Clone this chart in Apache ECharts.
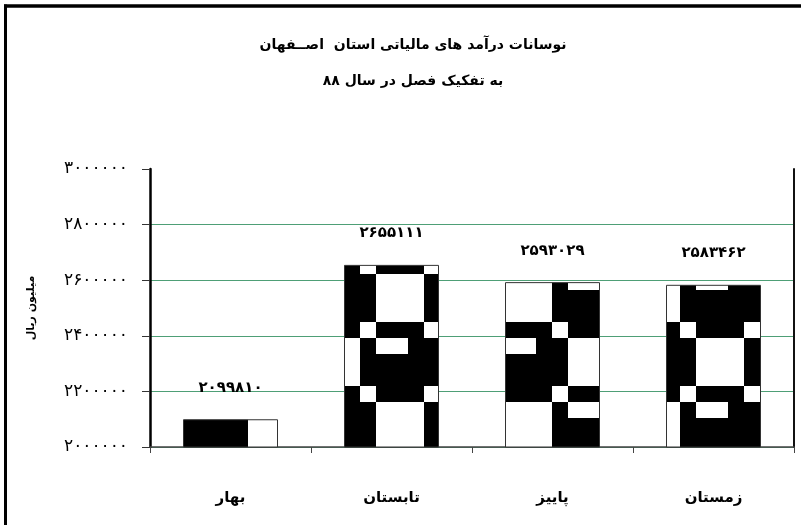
<!DOCTYPE html>
<html>
<head>
<meta charset="utf-8">
<script src="https://cdn.jsdelivr.net/npm/echarts@6/dist/echarts.min.js"></script>
<style>
html,body{margin:0;padding:0;background:#fff;overflow:hidden;}
#chart{width:801px;height:525px;}
</style>
</head>
<body>
<div id="chart"></div>
<script>
// ---- data ----
const categories = ['بهار', 'تابستان', 'پاییز', 'زمستان'];
const revenue = [2099810, 2655111, 2593029, 2583462];
const yMin = 2000000;
const yMax = 3000000;
const yStep = 200000;
const titleLine1 = 'نوسانات درآمد های مالیاتی استان  اصــفهان';
const titleLine2 = 'به تفکیک فصل در سال ۸۸';
const yAxisName = 'میلیون ریال';

// ---- helpers ----
const faDigits = '۰۱۲۳۴۵۶۷۸۹';
function toFa(n) { return String(n).replace(/\d/g, d => faDigits[+d]); }

// bar fill pattern (8x8 cells of 16px, 1 = black)
const tile = [
  [1,0,1,1,1,0,1,1],
  [1,1,0,0,0,1,0,0],
  [1,1,0,0,0,1,1,1],
  [1,1,0,0,0,1,1,1],
  [1,0,1,1,1,0,1,1],
  [0,1,0,0,1,1,0,0],
  [0,1,1,1,1,1,0,0],
  [0,1,1,1,1,1,0,0]
];
function makePattern() {
  const size = 128, cell = 16, ox = 88, oy = 2;
  const c = document.createElement('canvas');
  c.width = size; c.height = size;
  const ctx = c.getContext('2d');
  ctx.fillStyle = '#fff';
  ctx.fillRect(0, 0, size, size);
  ctx.fillStyle = '#000';
  for (let i = 0; i < 8; i++) {
    for (let j = 0; j < 8; j++) {
      if (!tile[i][j]) continue;
      const x = (ox + j * cell) % size, y = (oy + i * cell) % size;
      for (const dx of [0, -size]) for (const dy of [0, -size]) {
        ctx.fillRect(x + dx, y + dy, cell, cell);
      }
    }
  }
  return c;
}

const FONT = 'DejaVu Sans';
const grid = '#4e9f76';

const chart = echarts.init(document.getElementById('chart'), null, { renderer: 'canvas' });
chart.setOption({
  animation: false,
  backgroundColor: '#fff',
  textStyle: { fontFamily: FONT },
  title: [
    { text: titleLine1, left: 408, top: 33, textAlign: 'center',
      textStyle: { fontFamily: FONT, fontSize: 14, fontWeight: 'bold', color: '#000' } },
    { text: titleLine2, left: 408, top: 69, textAlign: 'center',
      textStyle: { fontFamily: FONT, fontSize: 14, fontWeight: 'bold', color: '#000' } }
  ],
  graphic: [
    { type: 'line', shape: { x1: 4, y1: 6, x2: 801, y2: 6 },
      style: { stroke: '#000', lineWidth: 3.5 }, silent: true },
    { type: 'line', shape: { x1: 5.5, y1: 4.5, x2: 5.5, y2: 525 },
      style: { stroke: '#000', lineWidth: 3 }, silent: true }
  ],
  grid: { left: 150, right: 7, top: 169, bottom: 78, containLabel: false },
  xAxis: {
    type: 'category',
    data: categories,
    axisLine: { show: true, lineStyle: { color: '#444', width: 1.5 } },
    axisTick: { show: true, alignWithLabel: false, length: 6, lineStyle: { color: '#444', width: 1 } },
    axisLabel: { margin: 44, fontFamily: FONT, fontSize: 15, fontWeight: 'bold', color: '#000' },
    splitLine: { show: false }
  },
  yAxis: [
    {
      type: 'value',
      min: yMin, max: yMax, interval: yStep,
      name: yAxisName,
      nameLocation: 'middle',
      nameRotate: 90,
      nameGap: 113,
      nameTextStyle: { fontFamily: FONT, fontSize: 11, fontWeight: 'bold', color: '#000' },
      axisLine: { show: true, lineStyle: { color: '#000', width: 2.5 } },
      axisTick: { show: true, length: 8, lineStyle: { color: '#333', width: 1 } },
      axisLabel: { margin: 22, fontFamily: FONT, fontSize: 17, color: '#000', formatter: v => toFa(v) },
      splitLine: { show: true, lineStyle: { color: [grid, grid, grid, grid, grid, 'transparent'], width: 1 } }
    },
    {
      type: 'value',
      position: 'right',
      min: yMin, max: yMax, interval: yStep,
      axisLine: { show: true, lineStyle: { color: '#111', width: 2 } },
      axisTick: { show: false },
      axisLabel: { show: false },
      splitLine: { show: false }
    }
  ],
  series: [
    {
      type: 'bar',
      yAxisIndex: 0,
      data: revenue,
      barWidth: 95,
      itemStyle: {
        color: { image: makePattern(), repeat: 'repeat' },
        borderColor: '#333',
        borderWidth: 1
      },
      label: {
        show: true,
        position: 'top',
        distance: 24,
        fontFamily: FONT,
        fontSize: 15,
        fontWeight: 'bold',
        color: '#000',
        formatter: p => toFa(p.value)
      }
    }
  ]
});
</script>
</body>
</html>
